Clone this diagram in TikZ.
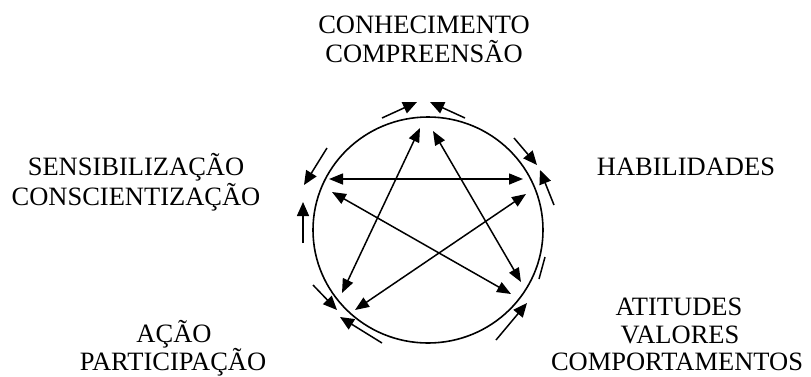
\documentclass[tikz,border=0pt]{standalone}
\usepackage{fontspec}
\setmainfont{Liberation Serif}
\usetikzlibrary{arrows.meta,shapes.geometric}
\begin{document}
\begin{tikzpicture}[x=1pt,y=-1pt,
  lbl/.style={font=\fontsize{26.5}{29}\selectfont, inner sep=0pt, anchor=base},
  conn/.style={line width=1.5pt, {Triangle[length=14pt,width=11pt]}-{Triangle[length=14pt,width=11pt]}},
  flow/.style={line width=1.5pt, -{Triangle[length=14pt,width=12pt]}},
  plain/.style={line width=1.5pt},
  ringstyle/.style={draw, ellipse, line width=1.6pt, minimum width=230pt, minimum height=226pt, inner sep=0pt}]
\useasboundingbox (0,0) rectangle (811,376);

% labels
\node[lbl] (k1) at (424,33) {CONHECIMENTO};
\node[lbl] (k2) at (424,62) {COMPREENSÃO};
\node[lbl] (s1) at (136,175) {SENSIBILIZAÇÃO};
\node[lbl] (s2) at (136,205) {CONSCIENTIZAÇÃO};
\node[lbl] (h1) at (686,175) {HABILIDADES};
\node[lbl] (a1) at (679,315) {ATITUDES};
\node[lbl] (a2) at (680,343) {VALORES};
\node[lbl] (a3) at (677,370) {COMPORTAMENTOS};
\node[lbl] (p1) at (174,342) {AÇÃO};
\node[lbl] (p2) at (173,370) {PARTICIPAÇÃO};

% ring
\node[ringstyle] (ring) at (428,230) {};

% star points
\coordinate (tA) at (420,128); \coordinate (bA) at (342,293);
\coordinate (tB) at (433,131); \coordinate (bB) at (521,282);
\coordinate (lC) at (329,179); \coordinate (rC) at (523,179);
\coordinate (lD) at (332,192); \coordinate (rD) at (511,294);
\coordinate (rE) at (526,194); \coordinate (lE) at (355,310);

\draw[conn] (tA) -- (bA);
\draw[conn] (tB) -- (bB);
\draw[conn] (lC) -- (rC);
\draw[conn] (lD) -- (rD);
\draw[conn] (rE) -- (lE);

% outer arrows
\coordinate (o1s) at (382,118); \coordinate (o1e) at (417,102);
\coordinate (o2s) at (465,118); \coordinate (o2e) at (430,102);
\coordinate (o3s) at (514,138); \coordinate (o3e) at (537,165);
\coordinate (o4s) at (554,205); \coordinate (o4e) at (540,170);
\coordinate (o5s) at (545,257); \coordinate (o5e) at (539,279);
\coordinate (o6s) at (496,340); \coordinate (o6e) at (527,303);
\coordinate (o7s) at (313,285); \coordinate (o7e) at (337,310);
\coordinate (o8s) at (382,343); \coordinate (o8e) at (340,317);
\coordinate (o9s) at (327,148); \coordinate (o9e) at (304,185);
\coordinate (o10s) at (303,243); \coordinate (o10e) at (303,202);

\draw[flow] (o1s) -- (o1e);
\draw[flow] (o2s) -- (o2e);
\draw[flow] (o3s) -- (o3e);
\draw[flow] (o4s) -- (o4e);
\draw[plain] (o5s) -- (o5e);
\draw[flow] (o6s) -- (o6e);
\draw[flow] (o7s) -- (o7e);
\draw[flow] (o8s) -- (o8e);
\draw[flow] (o9s) -- (o9e);
\draw[flow] (o10s) -- (o10e);
\end{tikzpicture}
\end{document}
